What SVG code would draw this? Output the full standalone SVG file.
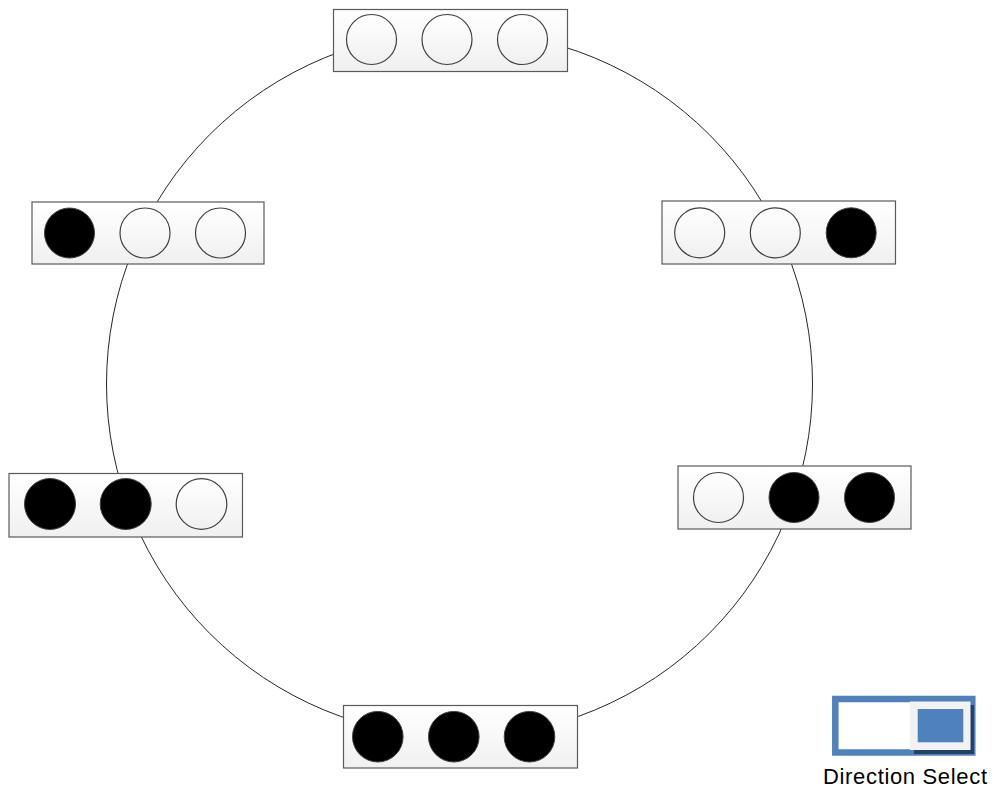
<svg xmlns="http://www.w3.org/2000/svg" width="995" height="789" viewBox="0 0 995 789">
<defs>
<linearGradient id="bg" x1="0" y1="0" x2="0" y2="1"><stop offset="0" stop-color="#ffffff"/><stop offset="1" stop-color="#f0f0f0"/></linearGradient>
<style>
.box{fill:url(#bg);stroke:#5a5a5a;stroke-width:1.2}
.off{fill:url(#bg);stroke:#404040;stroke-width:1.2}
.on{fill:#000;stroke:#404040;stroke-width:1}
.ring{fill:none;stroke:#262626;stroke-width:1}
.lbl{font-family:"Liberation Sans",Arial,sans-serif;font-size:22px;fill:#000}
</style>
</defs>
<rect width="995" height="789" fill="#fff"/>
<g id="connectors">
<circle class="ring" cx="459.5" cy="384" r="353"/>
</g>
<g id="state-top">
<rect class="box" x="333.5" y="9.5" width="234" height="62"/>
<circle class="off" cx="371.5" cy="39.5" r="25"/>
<circle class="off" cx="447" cy="39.5" r="25"/>
<circle class="off" cx="522.5" cy="39.5" r="25"/>
</g>
<g id="state-right-upper">
<rect class="box" x="662" y="201" width="233.5" height="63"/>
<circle class="off" cx="699.7" cy="232.8" r="25"/>
<circle class="off" cx="775.3" cy="232.8" r="25"/>
<circle class="on" cx="851.2" cy="232.8" r="25"/>
</g>
<g id="state-right-lower">
<rect class="box" x="678" y="466" width="233" height="63"/>
<circle class="off" cx="718.5" cy="497.5" r="25"/>
<circle class="on" cx="794" cy="497.5" r="25"/>
<circle class="on" cx="869.5" cy="497.5" r="25"/>
</g>
<g id="state-bottom">
<rect class="box" x="343.5" y="705.5" width="234" height="62.5"/>
<circle class="on" cx="377.8" cy="736.7" r="25.3"/>
<circle class="on" cx="453.8" cy="736.7" r="25.3"/>
<circle class="on" cx="529.5" cy="736.7" r="25.3"/>
</g>
<g id="state-left-lower">
<rect class="box" x="9" y="473.5" width="233.5" height="63.5"/>
<circle class="on" cx="50" cy="504" r="25.5"/>
<circle class="on" cx="125.7" cy="504" r="25.5"/>
<circle class="off" cx="201.5" cy="504" r="25.3"/>
</g>
<g id="state-left-upper">
<rect class="box" x="32" y="202" width="232" height="62"/>
<circle class="on" cx="69.5" cy="233" r="25"/>
<circle class="off" cx="145" cy="233" r="25"/>
<circle class="off" cx="220.5" cy="233" r="25"/>
</g>
<g id="direction-select">
<rect x="835.3" y="699" width="137" height="53.5" fill="#fff" stroke="#4f81bd" stroke-width="6.5"/>
<rect x="914" y="705" width="60" height="49" fill="#1f3a60" opacity="0.9"/>
<rect x="910" y="701.5" width="60.5" height="48.5" fill="#f2f2f2"/>
<rect x="917.7" y="709" width="45.6" height="33.3" fill="#4f81bd"/>
<text class="lbl" x="823" y="784" textLength="164" lengthAdjust="spacing">Direction Select</text>
</g>
</svg>
